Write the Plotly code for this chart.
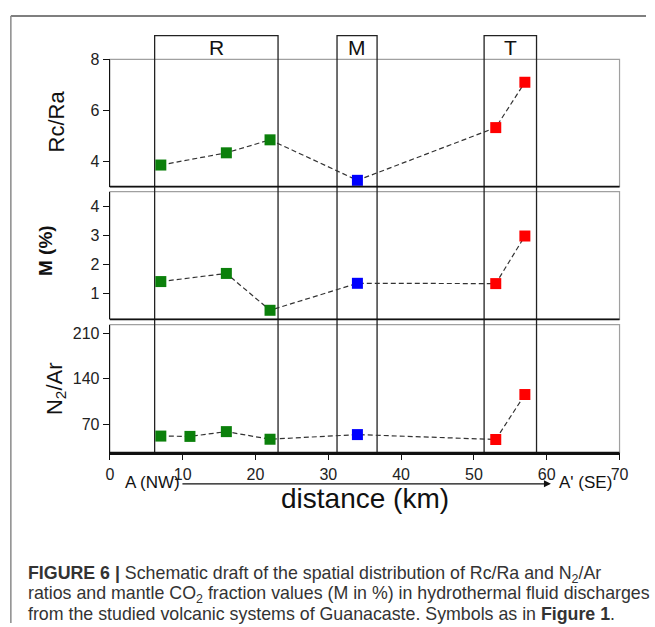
import plotly.graph_objects as go

W, H = 655, 627

# ---- data ----
x_rc = [7, 16, 22, 34, 53, 57]
rc_ra = [3.85, 4.33, 4.84, 3.25, 5.32, 7.1]
c_rc = ["g", "g", "g", "b", "r", "r"]

x_m = [7, 16, 22, 34, 53, 57]
m_pct = [1.4, 1.68, 0.41, 1.34, 1.33, 2.97]
c_m = ["g", "g", "g", "b", "r", "r"]

x_n = [7, 11, 16, 22, 34, 53, 57]
n2_ar = [51.5, 51.0, 58.4, 46.6, 53.8, 46.2, 115.8]
c_n = ["g", "g", "g", "g", "b", "r", "r"]

systems = ["R", "M", "T"]
sys_x0 = [6.15, 31.2, 51.4]
sys_x1 = [23.1, 36.7, 58.6]

x_ticks = [0, 10, 20, 30, 40, 50, 60, 70]

COL = {"g": "#0b800b", "b": "#0000ff", "r": "#ff0000"}
FONT = "Liberation Sans, Arial, sans-serif"


def py(p):  # pixel y -> paper
    return 1 - p / H


def px(p):
    return p / W


fig = go.Figure()
for xs, ys, cs, ya in [(x_rc, rc_ra, c_rc, "y"), (x_m, m_pct, c_m, "y2"), (x_n, n2_ar, c_n, "y3")]:
    fig.add_trace(go.Scatter(
        x=xs, y=ys, xaxis="x", yaxis=ya, mode="lines+markers",
        line=dict(color="#333333", width=1.2, dash="5px,3px"),
        marker=dict(symbol="square", size=11, color=[COL[c] for c in cs], line=dict(width=0)),
        cliponaxis=False, showlegend=False, hoverinfo="skip"))

xdom = [px(108), px(628)]
doms = {
    "y": [py(181), py(52)],
    "y2": [py(315.3), py(186)],
    "y3": [py(450.3), py(320.7)],
}
yax_common = dict(showline=True, linecolor="#111", linewidth=1.3, ticks="outside", ticklen=6,
                  tickwidth=1.2, tickcolor="#111", showgrid=False, zeroline=False,
                  tickfont=dict(family=FONT, size=16, color="#222"), anchor="x", fixedrange=True)

fig.update_layout(
    width=W, height=H, margin=dict(l=0, r=0, t=0, b=0),
    paper_bgcolor="white", plot_bgcolor="rgba(0,0,0,0)",
    xaxis=dict(domain=xdom, range=[0, 70], tickvals=x_ticks, anchor="y3", showline=True,
               linecolor="#111", linewidth=1.5, ticks="outside", ticklen=6, tickwidth=1.2,
               tickcolor="#111", showgrid=False, zeroline=False,
               tickfont=dict(family=FONT, size=16, color="#222")),
    yaxis=dict(domain=doms["y"], range=[3, 8], tickvals=[4, 6, 8], **yax_common),
    yaxis2=dict(domain=doms["y2"], range=[0.1, 4.5], tickvals=[1, 2, 3, 4], **yax_common),
    yaxis3=dict(domain=doms["y3"], range=[26, 224], tickvals=[70, 140, 210], **yax_common),
)

shapes = []
# panel frames
for ya in ["y", "y2", "y3"]:
    shapes.append(dict(type="rect", xref="x domain", yref=ya + " domain", x0=0, x1=1, y0=0, y1=1,
                       line=dict(color="#a0a0a0", width=1.2), layer="below"))
    shapes.append(dict(type="line", xref="x domain", yref=ya + " domain", x0=0, x1=1, y0=0, y1=0,
                       line=dict(color="#111", width=1.8)))
# system boxes
for x0, x1 in zip(sys_x0, sys_x1):
    shapes.append(dict(type="rect", xref="x", yref="paper", x0=x0, x1=x1, y0=py(450.3), y1=py(28),
                       line=dict(color="#222", width=1.3), layer="below"))
# outer frame
shapes.append(dict(type="line", xref="paper", yref="paper", x0=px(7), x1=1, y0=py(8), y1=py(8),
                   line=dict(color="#555", width=1.5)))
shapes.append(dict(type="line", xref="paper", yref="paper", x0=px(7), x1=px(7), y0=py(8), y1=py(623),
                   line=dict(color="#8a8a8a", width=1.5)))
fig.update_layout(shapes=shapes)


def note(text, x, y, size, angle=0, xanchor="center", color="#111"):
    return dict(text=text, x=x, y=y, xref="paper", yref="paper", textangle=angle,
                xanchor=xanchor, yanchor="middle", showarrow=False,
                font=dict(family=FONT, size=size, color=color))


ann = []
for s, x0, x1 in zip(systems, sys_x0, sys_x1):
    a = note(s, 0, py(40), 21)
    a.update(x=(x0 + x1) / 2, xref="x")
    ann.append(a)
# axis titles
ann.append(note("Rc/Ra", px(54), py(115), 22, -90))
ann.append(note("<b>M (%)</b>", px(43), py(246), 19, -90))
ann.append(note("N<sub>2</sub>/Ar", px(53), py(385), 22, -90))
ann.append(note("distance (km)", px(368), py(497), 28))
ann.append(note("A (NW)", px(152), py(481), 17))
ann.append(note("A' (SE)", px(593), py(481), 17))
ann.append(dict(text="", x=px(558), y=py(482), xref="paper", yref="paper", ax=-(558 - 188), ay=0,
                showarrow=True, arrowhead=2, arrowsize=1, arrowwidth=1.4, arrowcolor="#111"))
# caption
cap = [
    "<b>FIGURE 6 |</b> Schematic draft of the spatial distribution of Rc/Ra and N<sub>2</sub>/Ar",
    "ratios and mantle CO<sub>2</sub> fraction values (M in %) in hydrothermal fluid discharges",
    "from the studied volcanic systems of Guanacaste. Symbols as in <b>Figure 1</b>.",
]
for i, t in enumerate(cap):
    ann.append(note(t, px(22), py(574 + 20 * i), 17.8, xanchor="left", color="#333"))
fig.update_layout(annotations=ann)

fig.write_html("out.html", post_script="document.body.style.margin='0px';")
